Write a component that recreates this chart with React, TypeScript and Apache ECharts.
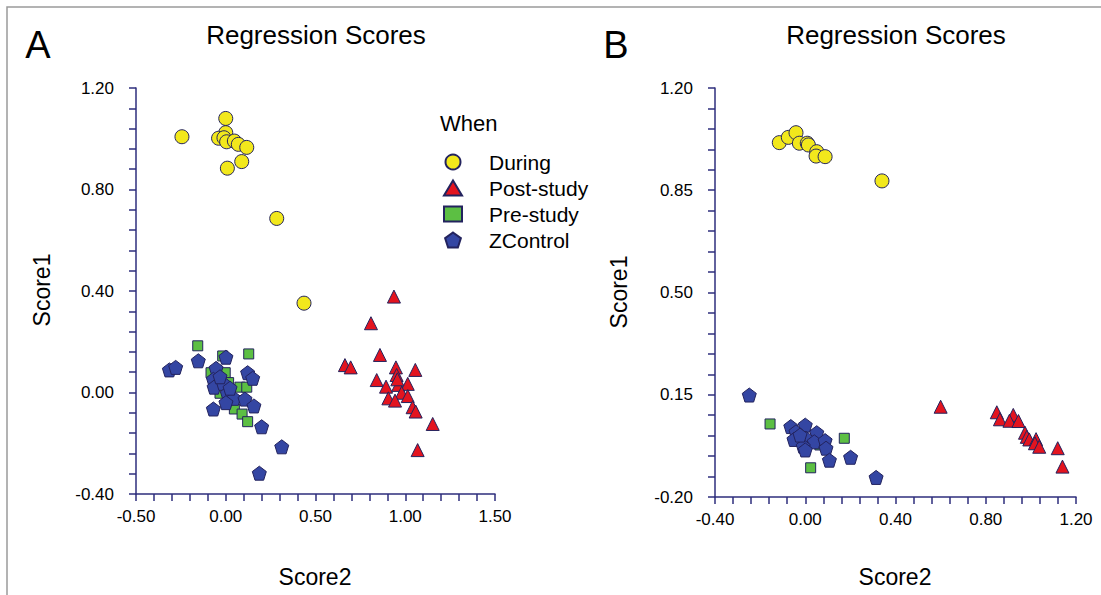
import React, { useEffect, useRef } from "react";
import * as echarts from "echarts";

// ---------- Data ----------
// Panel A
const duringA: number[][] = [
  [-0.244, 1.008], [0.0, 1.08], [0.0, 1.024], [-0.04, 1.002], [-0.01, 1.004],
  [0.005, 0.988], [0.048, 0.991], [0.07, 0.978], [0.117, 0.966], [0.089, 0.91],
  [0.009, 0.884], [0.284, 0.686], [0.436, 0.352],
];
const postA: number[][] = [
  [0.937, 0.378], [0.809, 0.273], [0.859, 0.148], [0.664, 0.108], [0.696, 0.099],
  [0.948, 0.099], [1.056, 0.089], [0.952, 0.069], [0.841, 0.049], [0.893, 0.023],
  [0.961, 0.03], [1.014, 0.034], [0.98, -0.001], [1.014, -0.014], [0.906, -0.023],
  [0.943, -0.032], [1.041, -0.058], [1.058, -0.075], [1.153, -0.124], [1.069, -0.227],
  [0.956, 0.052],
];
const preA: number[][] = [
  [-0.156, 0.184], [0.128, 0.152], [-0.017, 0.144], [-0.003, 0.078], [-0.082, 0.078],
  [0.016, 0.039], [0.079, 0.021], [0.117, 0.021], [-0.032, -0.003], [0.048, -0.065],
  [0.091, -0.085], [0.122, -0.115],
];
const controlA: number[][] = [
  [-0.314, 0.089], [-0.279, 0.099], [-0.153, 0.125], [0.001, 0.139], [-0.054, 0.095],
  [0.122, 0.078], [0.15, 0.056], [-0.069, 0.052], [-0.065, 0.021], [-0.014, 0.036],
  [0.009, -0.003], [0.046, -0.023], [0.001, -0.04], [0.107, -0.026], [0.157, -0.053],
  [-0.069, -0.065], [0.2, -0.135], [0.312, -0.214], [0.187, -0.318], [-0.032, 0.062],
  [0.024, 0.017],
];
// Panel B
const duringB: number[][] = [
  [-0.115, 1.013], [-0.075, 1.031], [-0.041, 1.047], [-0.026, 1.011], [0.009, 1.011],
  [0.014, 1.005], [0.051, 0.982], [0.048, 0.967], [0.088, 0.965], [0.34, 0.882],
];
const postB: number[][] = [
  [0.6, 0.109], [0.849, 0.09], [0.863, 0.066], [0.922, 0.081], [0.905, 0.061],
  [0.945, 0.06], [0.974, 0.02], [0.982, 0.006], [0.993, -0.003], [1.023, -0.002],
  [1.018, -0.016], [1.037, -0.028], [1.119, -0.033], [1.14, -0.096],
];
const preB: number[][] = [
  [-0.156, 0.05], [0.173, 0.001], [0.024, -0.1], [0.065, -0.022],
];
const controlB: number[][] = [
  [-0.248, 0.149], [-0.064, 0.041], [0.0, 0.046], [-0.041, 0.023], [0.051, 0.02],
  [-0.05, -0.003], [0.003, 0.001], [0.04, -0.011], [0.088, -0.007], [0.092, -0.033],
  [-0.009, -0.026], [0.0, -0.039], [0.107, -0.074], [0.201, -0.064], [0.314, -0.133],
  [-0.023, 0.012],
];

// ---------- Axis ranges / tick labels ----------
const xRangeA = { min: -0.5, max: 1.5, interval: 0.5 };
const yRangeA = { min: -0.4, max: 1.2, interval: 0.4 };
const xRangeB = { min: -0.4, max: 1.2, interval: 0.4 };
const yRangeB = { min: -0.2, max: 1.2, interval: 0.35 };
const MINOR_SPLIT = 5;

const seriesNames = ["During", "Post-study", "Pre-study", "ZControl"];

const FONT = "Liberation Sans, Arial, Helvetica, sans-serif";
const AXIS_COLOR = "#2e2e7c";
const EDGE = "#23235e";
const PENTAGON =
  "path://M0,-1 L0.951,-0.309 L0.588,0.809 L-0.588,0.809 L-0.951,-0.309 Z";

const styles = [
  { symbol: "circle", size: 14, color: "#f2e81c" },
  { symbol: "triangle", size: 13, color: "#e3141f" },
  { symbol: "rect", size: 10, color: "#5cbf43" },
  { symbol: PENTAGON, size: 14, color: "#3446a3" },
];

// Visible axis; "shift" moves the labels when min is not a multiple of interval
function visAxis(
  gridIndex: number,
  r: { min: number; max: number; interval: number },
  margin: number,
  position: string,
  shift = 0,
) {
  return {
    type: "value",
    gridIndex,
    position,
    min: r.min - shift,
    max: r.max - shift,
    interval: r.interval,
    axisLine: { show: true, onZero: false, lineStyle: { color: AXIS_COLOR, width: 1.5 } },
    axisTick: { show: true, length: 7, lineStyle: { color: AXIS_COLOR, width: 1.5 } },
    minorTick: {
      show: true,
      splitNumber: MINOR_SPLIT,
      length: 7,
      lineStyle: { color: AXIS_COLOR, width: 1.5 },
    },
    minorSplitLine: { show: false },
    axisLabel: {
      formatter: (v: number) => (v + shift).toFixed(2),
      color: "#000",
      fontSize: 17,
      fontFamily: FONT,
      margin,
      showMinLabel: true,
      showMaxLabel: true,
    },
    splitLine: { show: false },
  };
}

function hiddenAxis(gridIndex: number, r: { min: number; max: number }) {
  return {
    type: "value",
    gridIndex,
    position: "left",
    min: r.min,
    max: r.max,
    show: false,
    splitLine: { show: false },
  };
}

function makeSeries(xIdx: number, yIdx: number, dataSets: number[][][]) {
  return dataSets.map((d, i) => ({
    type: "scatter",
    name: seriesNames[i],
    xAxisIndex: xIdx,
    yAxisIndex: yIdx,
    data: d,
    symbol: styles[i].symbol,
    symbolSize: styles[i].size,
    itemStyle: { color: styles[i].color, borderColor: EDGE, borderWidth: 1, opacity: 1 },
    emphasis: { disabled: true },
  }));
}

export default function App() {
  const ref = useRef<HTMLDivElement>(null);
  useEffect(() => {
    if (!ref.current) return;
    const chart = echarts.init(ref.current, null, { renderer: "svg" });
    const txt = (text: string, x: number, y: number, size: number, rotation = 0) => ({
      type: "text",
      x,
      y,
      rotation,
      style: {
        text,
        fontSize: size,
        fontFamily: FONT,
        fill: "#000",
        align: "center",
        verticalAlign: "middle",
      },
      silent: true,
    });
    chart.setOption({
      animation: false,
      backgroundColor: "#fff",
      grid: [
        { left: 136, top: 88, width: 359, height: 406, outerBoundsMode: "none", containLabel: false },
        { left: 715, top: 88, width: 361, height: 409, outerBoundsMode: "none", containLabel: false },
      ],
      xAxis: [visAxis(0, xRangeA, 14, "bottom"), visAxis(1, xRangeB, 14, "bottom")],
      yAxis: [
        visAxis(0, yRangeA, 22, "left"),
        // data axis for panel B (hidden) + decorative axis shifted so ticks start at min
        hiddenAxis(1, yRangeB),
        visAxis(1, yRangeB, 22, "left", yRangeB.min),
      ],
      legend: {
        show: true,
        orient: "vertical",
        left: 438,
        top: 146,
        itemWidth: 18,
        itemHeight: 15,
        itemGap: 4,
        selectedMode: false,
        data: seriesNames,
        textStyle: {
          fontSize: 21,
          fontFamily: FONT,
          color: "#000",
          lineHeight: 22,
          padding: [0, 0, 0, 22],
        },
      },
      graphic: [
        {
          type: "rect",
          shape: { x: 7, y: 7, width: 1110, height: 610 },
          style: { fill: "none", stroke: "#9a9a9a", lineWidth: 1.5 },
          silent: true,
        },
        txt("A", 38, 45, 38),
        txt("B", 616, 45, 38),
        txt("Regression Scores", 316, 35, 26),
        txt("Regression Scores", 896, 35, 26),
        txt("Score1", 42, 290, 23, Math.PI / 2),
        txt("Score1", 619, 292, 23, Math.PI / 2),
        txt("Score2", 315, 577, 23),
        txt("Score2", 895, 577, 23),
        {
          type: "text",
          x: 440,
          y: 123,
          style: {
            text: "When",
            fontSize: 22,
            fontFamily: FONT,
            fill: "#000",
            align: "left",
            verticalAlign: "middle",
          },
          silent: true,
        },
      ],
      series: [
        ...makeSeries(0, 0, [duringA, postA, preA, controlA]),
        ...makeSeries(1, 1, [duringB, postB, preB, controlB]),
      ],
    });
    return () => chart.dispose();
  }, []);
  return (
    <div
      ref={ref}
      style={{ position: "fixed", left: 0, top: 0, width: 1101, height: 595 }}
    />
  );
}
